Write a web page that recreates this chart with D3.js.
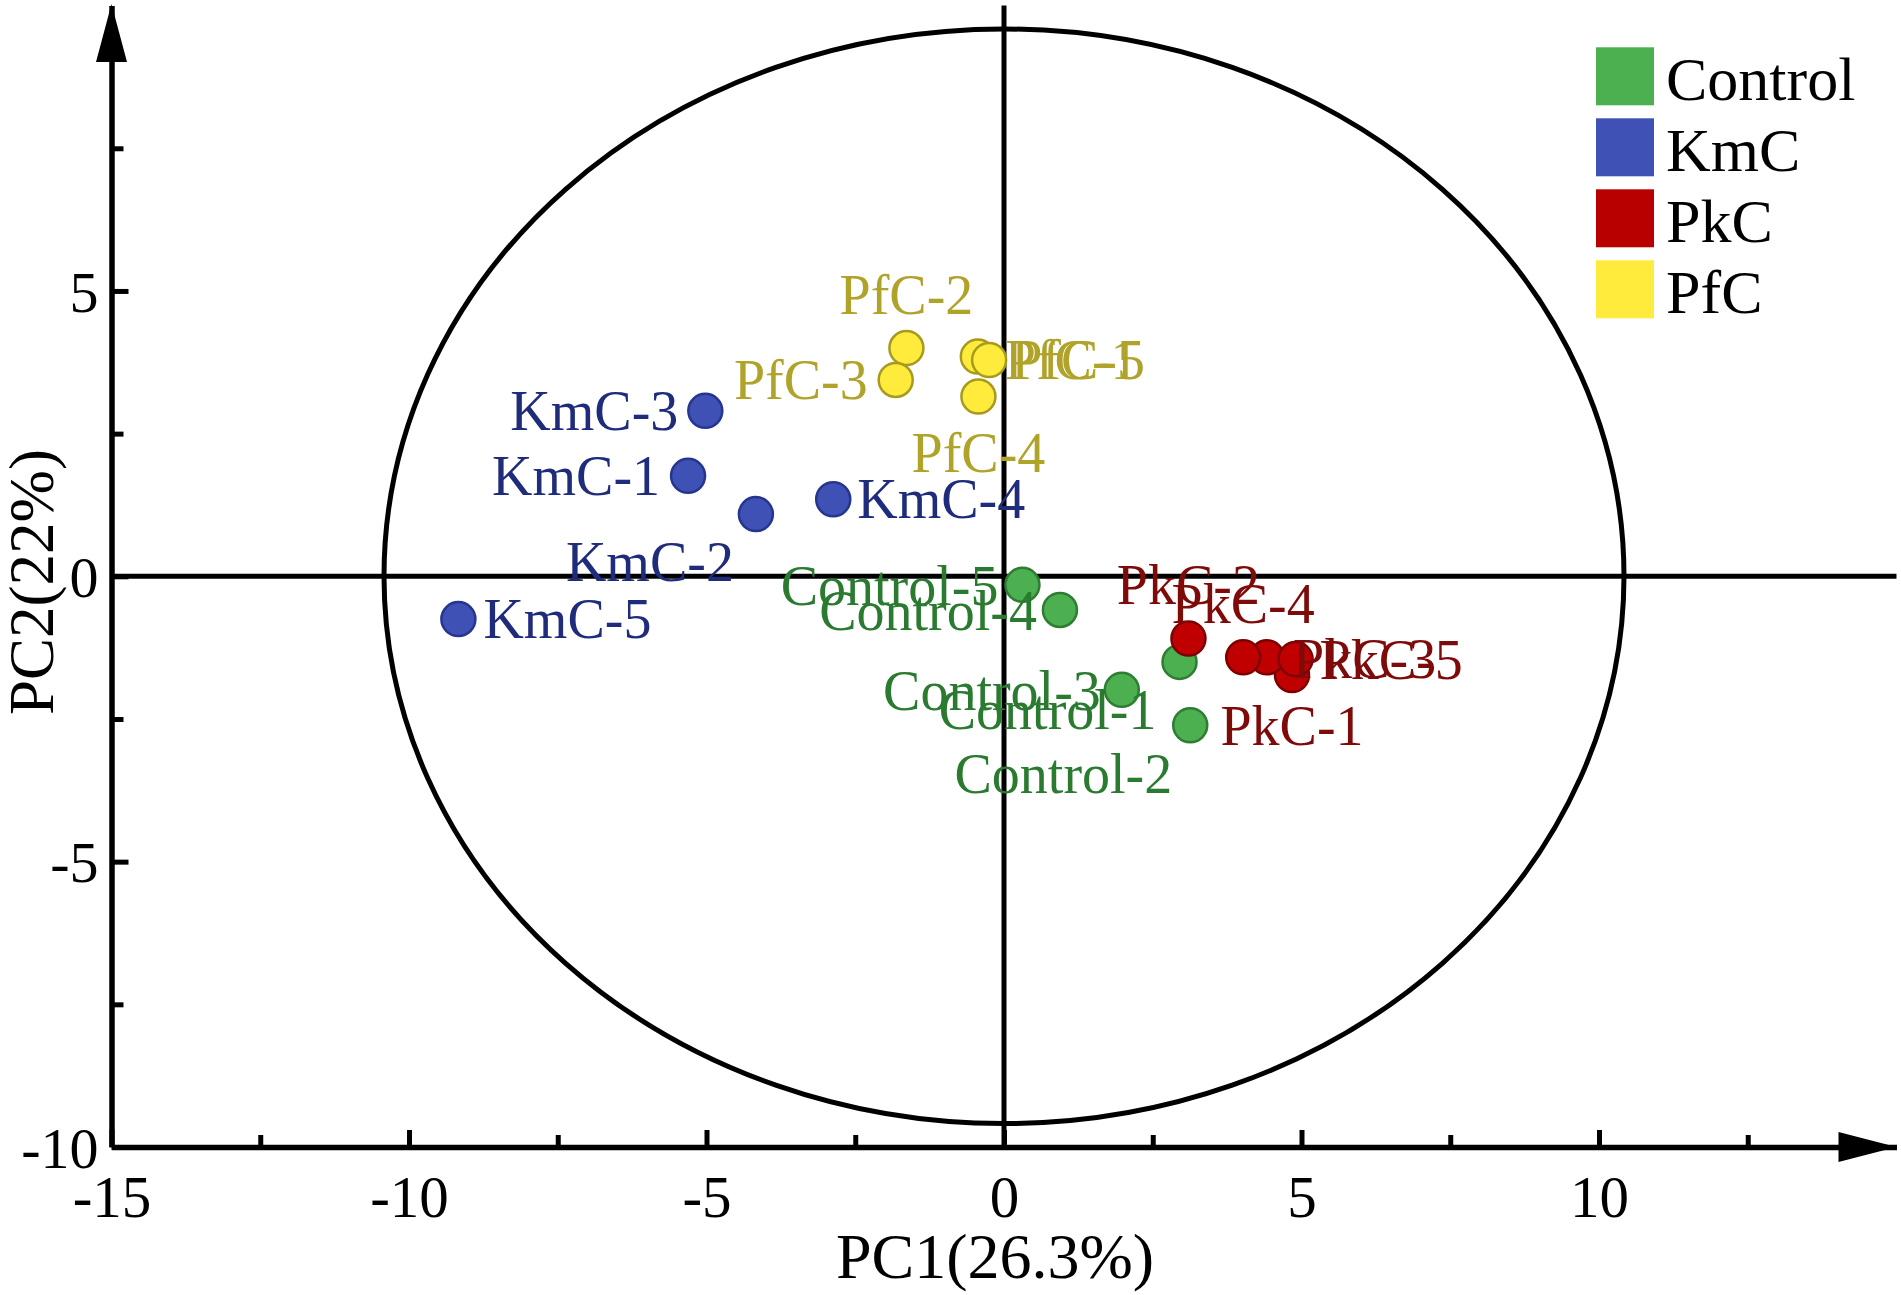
<!DOCTYPE html>
<html>
<head>
<meta charset="utf-8">
<script src="https://cdn.jsdelivr.net/npm/d3@7/dist/d3.min.js"></script>
<style>
  html, body { margin: 0; padding: 0; background: #ffffff; }
  svg { display: block; }
  text { font-family: "Times New Roman", "Liberation Serif", serif; }
</style>
</head>
<body>
<svg id="chart" width="1901" height="1295"></svg>
<script>
// ---------------- data ----------------
const groups = ["Control", "KmC", "PkC", "PfC"];
const sampleNumbers = [1, 2, 3, 4, 5];

const controlPC1 = [2.95, 3.13, 1.98, 0.94, 0.31];
const controlPC2 = [-1.50, -2.61, -1.99, -0.59, -0.15];

const kmcPC1 = [-5.31, -4.17, -5.02, -2.87, -9.17];
const kmcPC2 = [1.76, 1.09, 2.90, 1.35, -0.75];

const pkcPC1 = [4.84, 3.10, 4.42, 4.02, 4.90];
const pkcPC2 = [-1.73, -1.09, -1.42, -1.42, -1.45];

const pfcPC1 = [-0.44, -1.64, -1.82, -0.43, -0.25];
const pfcPC2 = [3.85, 4.00, 3.44, 3.15, 3.79];

const xTickValues = [-15, -10, -5, 0, 5, 10];
const xMinorTickValues = [-12.5, -7.5, -2.5, 2.5, 7.5, 12.5];
const yTickValues = [-10, -5, 0, 5];
const yMinorTickValues = [-7.5, -2.5, 2.5, 7.5];

const xDomain = [-15, 15];
const yDomain = [-10, 10];
const ellipseSemiAxes = [10.42, 9.59]; // confidence ellipse (PC1, PC2)

const xTitle = "PC1(26.3%)";
const yTitle = "PC2(22%)";

// ---------------- styles / layout ----------------
const style = {
  Control: { fill: "#4CAF50", stroke: "#2E7D32", label: "#2A7A30", legend: "#4CAF50" },
  KmC:     { fill: "#3F51B5", stroke: "#26358F", label: "#1F2C7C", legend: "#3F51B5" },
  PkC:     { fill: "#C00000", stroke: "#7F0000", label: "#7E0A0A", legend: "#B80000" },
  PfC:     { fill: "#FFEB3B", stroke: "#A89A1E", label: "#B0A32A", legend: "#FFEB3B" }
};

// label placement: [text-anchor, dx(px), dy baseline(px)]
const labelPlacement = {
  "Control-1": ["end", -23, 67], "Control-2": ["end", -18, 68], "Control-3": ["end", -21, 20],
  "Control-4": ["end", -23, 20], "Control-5": ["end", -24, 20],
  "KmC-1": ["end", -28, 19], "KmC-2": ["end", -22, 67], "KmC-3": ["end", -27, 19],
  "KmC-4": ["start", 24, 19], "KmC-5": ["start", 25, 19],
  "PkC-1": ["middle", 0, 70], "PkC-2": ["middle", 0, -35], "PkC-3": ["start", 26, 21],
  "PkC-4": ["middle", 0, -34], "PkC-5": ["start", 24, 20],
  "PfC-1": ["start", 27, 22], "PfC-2": ["middle", 0, -34], "PfC-3": ["end", -28, 19],
  "PfC-4": ["middle", 0, 75], "PfC-5": ["start", 22, 19]
};

const seriesValues = {
  Control: [controlPC1, controlPC2],
  KmC: [kmcPC1, kmcPC2],
  PkC: [pkcPC1, pkcPC2],
  PfC: [pfcPC1, pfcPC2]
};

const points = [];
groups.forEach(g => {
  const [pc1, pc2] = seriesValues[g];
  sampleNumbers.forEach((n, i) => {
    points.push({ group: g, name: g + "-" + n, pc1: pc1[i], pc2: pc2[i] });
  });
});

// ---------------- scales ----------------
const svg = d3.select("#chart");
const x = d3.scaleLinear().domain(xDomain).range([111.5, 1896.5]);
const y = d3.scaleLinear().domain(yDomain).range([1147, 5.6]);

const lineW = 5.5;

// ellipse
svg.append("ellipse")
  .attr("cx", x(0)).attr("cy", y(0))
  .attr("rx", x(ellipseSemiAxes[0]) - x(0))
  .attr("ry", y(0) - y(ellipseSemiAxes[1]))
  .attr("fill", "none").attr("stroke", "#000").attr("stroke-width", 5);

// crosshair lines
svg.append("line")
  .attr("x1", x(0)).attr("x2", x(0)).attr("y1", y(yDomain[1])).attr("y2", y(yDomain[0]))
  .attr("stroke", "#000").attr("stroke-width", 5);
svg.append("line")
  .attr("x1", x(xDomain[0])).attr("x2", x(xDomain[1])).attr("y1", y(0)).attr("y2", y(0))
  .attr("stroke", "#000").attr("stroke-width", 5);

// axes
function styleAxis(g) {
  g.selectAll("path.domain").attr("stroke", "#000").attr("stroke-width", lineW);
  g.selectAll(".tick line").attr("stroke", "#000").attr("stroke-width", 5);
  g.selectAll(".tick text").attr("fill", "#000")
    .style("font-family", "'Times New Roman', 'Liberation Serif', serif");
}

const xAxisG = svg.append("g")
  .attr("transform", `translate(0,${y(yDomain[0])})`)
  .call(d3.axisBottom(x).tickValues(xTickValues).tickSizeInner(-17).tickSizeOuter(0)
    .tickPadding(28).tickFormat(d3.format("d")))
  .attr("font-size", 59);
styleAxis(xAxisG);
xAxisG.selectAll(".tick text").text(d => d < 0 ? "-" + Math.abs(d) : d);

const xMinorG = svg.append("g")
  .attr("transform", `translate(0,${y(yDomain[0])})`)
  .call(d3.axisBottom(x).tickValues(xMinorTickValues).tickSizeInner(-12).tickSizeOuter(0).tickFormat(""));
styleAxis(xMinorG);
xMinorG.select("path.domain").remove();

const yAxisG = svg.append("g")
  .attr("transform", `translate(${x(xDomain[0])},0)`)
  .call(d3.axisLeft(y).tickValues(yTickValues).tickSizeInner(-17).tickSizeOuter(0)
    .tickPadding(13).tickFormat(d3.format("d")))
  .attr("font-size", 58);
styleAxis(yAxisG);
yAxisG.selectAll(".tick text").attr("dy", "0.35em").text(d => d < 0 ? "-" + Math.abs(d) : d);

const yMinorG = svg.append("g")
  .attr("transform", `translate(${x(xDomain[0])},0)`)
  .call(d3.axisLeft(y).tickValues(yMinorTickValues).tickSizeInner(-12).tickSizeOuter(0).tickFormat(""));
styleAxis(yMinorG);
yMinorG.select("path.domain").remove();

// arrow heads
const xa = x(xDomain[1]), ya = y(yDomain[0]);
svg.append("path")
  .attr("d", `M${xa},${ya} L${xa - 58},${ya - 15} L${xa - 58},${ya + 15} Z`)
  .attr("fill", "#000");
const yx = x(xDomain[0]), yt = y(yDomain[1]) - 1.5;
svg.append("path")
  .attr("d", `M${yx},${yt} L${yx - 15.5},${yt + 58} L${yx + 15.5},${yt + 58} Z`)
  .attr("fill", "#000");

// axis titles
svg.append("text")
  .attr("x", 995).attr("y", 1278)
  .attr("text-anchor", "middle").attr("font-size", 64).attr("fill", "#000")
  .text(xTitle);
svg.append("text")
  .attr("transform", "translate(53,582) rotate(-90)")
  .attr("text-anchor", "middle").attr("font-size", 63).attr("fill", "#000")
  .text(yTitle);

// points and labels, group by group
groups.forEach(g => {
  const gp = points.filter(p => p.group === g);
  const layer = svg.append("g");
  layer.selectAll("circle").data(gp).join("circle")
    .attr("cx", d => x(d.pc1)).attr("cy", d => y(d.pc2))
    .attr("r", 17)
    .attr("fill", style[g].fill)
    .attr("stroke", style[g].stroke)
    .attr("stroke-width", 2.5);
  layer.selectAll("text").data(gp).join("text")
    .attr("x", d => x(d.pc1) + labelPlacement[d.name][1])
    .attr("y", d => y(d.pc2) + labelPlacement[d.name][2])
    .attr("text-anchor", d => labelPlacement[d.name][0])
    .attr("font-size", 56)
    .attr("fill", style[g].label)
    .text(d => d.name);
});

// legend
const legend = svg.append("g");
groups.forEach((g, i) => {
  const top = 47.3 + i * 71;
  legend.append("rect")
    .attr("x", 1596).attr("y", top).attr("width", 58).attr("height", 58)
    .attr("fill", style[g].legend);
  legend.append("text")
    .attr("x", 1666).attr("y", top + 52.7)
    .attr("font-size", 62).attr("fill", "#000")
    .text(g);
});
</script>
</body>
</html>
